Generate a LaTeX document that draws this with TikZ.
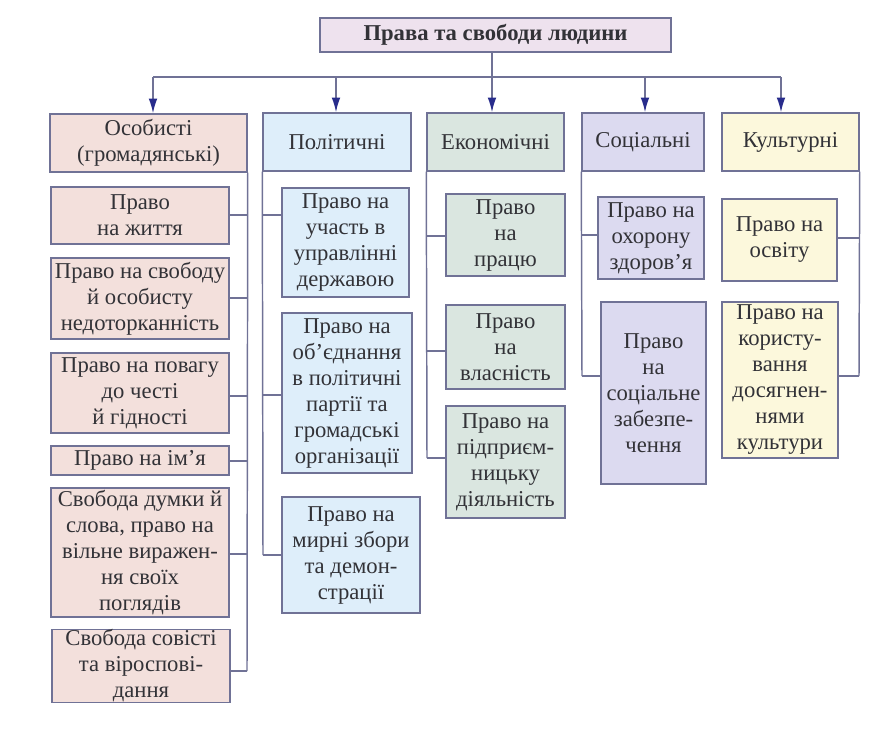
\documentclass[tikz,border=0pt]{standalone}
\usepackage{fontspec}
\setmainfont{Liberation Serif}
\usetikzlibrary{arrows.meta}
\definecolor{bordc}{RGB}{112,114,150}
\definecolor{linec}{RGB}{112,114,150}
\definecolor{arrc}{RGB}{40,44,140}
\definecolor{txtc}{RGB}{50,50,55}
\definecolor{titlef}{RGB}{238,226,238}
\definecolor{osobf}{RGB}{243,224,220}
\definecolor{politf}{RGB}{222,238,250}
\definecolor{econf}{RGB}{218,230,224}
\definecolor{socf}{RGB}{220,218,240}
\definecolor{cultf}{RGB}{252,248,220}
\tikzset{
  boxbase/.style={draw=bordc, line width=1.1pt, align=center, inner sep=0pt,
    text=txtc, font=\fontsize{17}{19.5}\selectfont},
  titlebox/.style={boxbase, fill=titlef, font=\fontsize{17}{20}\selectfont\bfseries},
  osobbox/.style={boxbase, fill=osobf},
  politbox/.style={boxbase, fill=politf},
  econbox/.style={boxbase, fill=econf},
  socbox/.style={boxbase, fill=socf},
  cultbox/.style={boxbase, fill=cultf},
  ln/.style={draw=linec, line width=1.1pt},
  arr/.style={ln, -{Latex[length=11pt,width=6.5pt,fill=arrc,color=arrc]}},
}
\newcommand\bx[7]{\node[#6, minimum width={(#4-#2)*0.75pt}, minimum height={(#5-#3)*0.75pt}] (#1) at ({(#2+#4)/2},{(#3+#5)/2}) {#7};}
\begin{document}
\begin{tikzpicture}[x=0.75pt,y=-0.75pt]
\useasboundingbox (0,0) rectangle (872,740);
% title and categories
\bx{title}{320}{18}{671}{52}{titlebox}{Права та свободи людини}
\bx{osob}{50}{114}{247}{172}{osobbox}{Особисті\\(громадянські)}
\bx{polit}{263}{113}{411}{171}{politbox}{Політичні}
\bx{econ}{427}{113}{564}{171}{econbox}{Економічні}
\bx{soc}{582}{113}{704}{171}{socbox}{Соціальні}
\bx{cult}{722}{113}{859}{171}{cultbox}{Культурні}
% bus and arrows
\coordinate (bus) at (492,77);
\coordinate (b1) at (153,77);
\coordinate (b2) at (336,77);
\coordinate (b3) at (492,77);
\coordinate (b4) at (645,77);
\coordinate (b5) at (781,77);
\draw[ln] (title.south -| bus) -- (bus);
\draw[ln] (b1) -- (b5);
\draw[arr] (b1) -- (b1 |- osob.north);
\draw[arr] (b2) -- (b2 |- polit.north);
\draw[arr] (b3) -- (b3 |- econ.north);
\draw[arr] (b4) -- (b4 |- soc.north);
\draw[arr] (b5) -- (b5 |- cult.north);
% personal
\bx{o1}{51}{187}{229}{244}{osobbox}{Право\\на життя}
\bx{o2}{51}{258}{229}{339}{osobbox}{Право на свободу\\й особисту\\недоторканність}
\bx{o3}{51}{353}{229}{433}{osobbox}{Право на повагу\\до честі\\й гідності}
\bx{o4}{51}{446}{229}{475}{osobbox}{Право на ім’я}
\bx{o5}{51}{488}{229}{617}{osobbox}{Свобода думки й\\слова, право на\\вільне виражен-\\ня своїх\\поглядів}
\bx{o6}{52}{631}{230}{701}{osobbox}{Свобода совісті\\та віроспові-\\дання}
\coordinate (oc1) at (247,215);
\coordinate (oc2) at (247,298);
\coordinate (oc3) at (247,396);
\coordinate (oc4) at (247,461);
\coordinate (oc5) at (247,554);
\coordinate (oc6) at (247,671);
\draw[ln] (osob.south east) -- (oc6);
\foreach \i in {1,...,6}{\draw[ln] (oc\i) -- (o\i.east |- oc\i);}
% political
\bx{p1}{282}{188}{409}{297}{politbox}{Право на\\участь в\\управлінні\\державою}
\bx{p2}{282}{313}{412}{473}{politbox}{Право на\\об’єднання\\в політичні\\партії та\\громадські\\організації}
\bx{p3}{282}{497}{420}{613}{politbox}{Право на\\мирні збори\\та демон-\\страції}
\coordinate (pc1) at (263,215);
\coordinate (pc2) at (263,395);
\coordinate (pc3) at (263,555);
\draw[ln] (polit.south west) -- (pc3);
\foreach \i in {1,2,3}{\draw[ln] (pc\i) -- (p\i.west |- pc\i);}
% economic
\bx{e1}{446}{194}{565}{276}{econbox}{Право\\на\\працю}
\bx{e2}{446}{305}{565}{389}{econbox}{Право\\на\\власність}
\bx{e3}{446}{406}{565}{518}{econbox}{Право на\\підприєм-\\ницьку\\діяльність}
\coordinate (ec1) at (427,236);
\coordinate (ec2) at (427,351);
\coordinate (ec3) at (427,458);
\draw[ln] (econ.south west) -- (ec3);
\foreach \i in {1,2,3}{\draw[ln] (ec\i) -- (e\i.west |- ec\i);}
% social
\bx{s1}{598}{197}{704}{279}{socbox}{Право на\\охорону\\здоров’я}
\bx{s2}{601}{302}{706}{484}{socbox}{Право\\на\\соціальне\\забезпе-\\чення}
\coordinate (sc1) at (582,235);
\coordinate (sc2) at (582,376);
\draw[ln] (soc.south west) -- (sc2);
\foreach \i in {1,2}{\draw[ln] (sc\i) -- (s\i.west |- sc\i);}
% cultural
\bx{c1}{722}{199}{837}{281}{cultbox}{Право на\\освіту}
\bx{c2}{722}{302}{838}{458}{cultbox}{Право на\\користу-\\вання\\досягнен-\\нями\\культури}
\coordinate (cc1) at (859,238);
\coordinate (cc2) at (859,376);
\draw[ln] (cult.south east) -- (cc2);
\foreach \i in {1,2}{\draw[ln] (cc\i) -- (c\i.east |- cc\i);}
\end{tikzpicture}
\end{document}
